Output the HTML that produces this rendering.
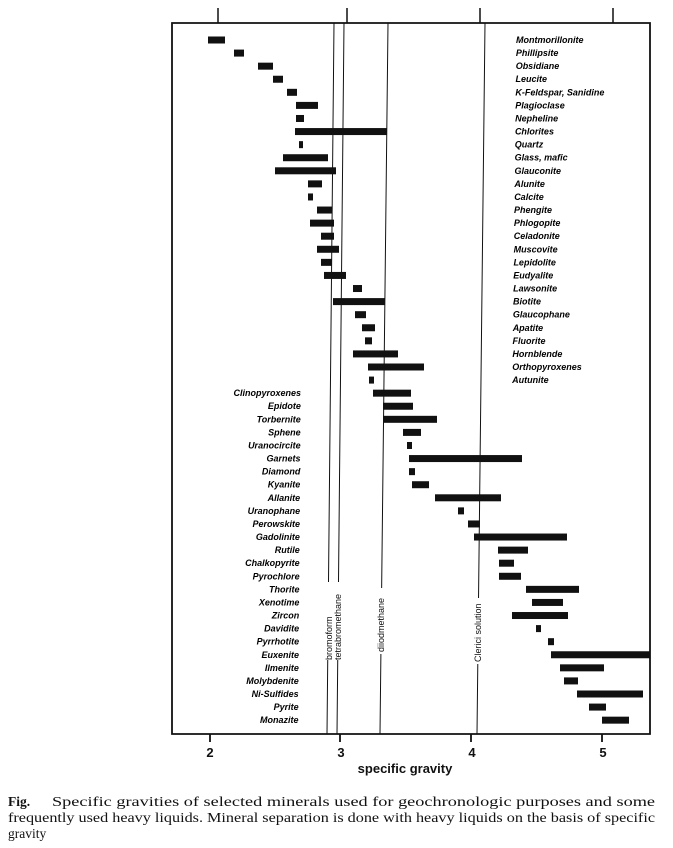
<!DOCTYPE html>
<html><head><style>
body{margin:0;background:#fff;width:673px;height:848px;overflow:hidden}
svg{display:block}
.l{font-family:"Liberation Sans",sans-serif;font-style:italic;font-weight:bold;font-size:9px;fill:#000}
.t{font-family:"Liberation Sans",sans-serif;font-weight:bold;font-size:13px;fill:#111}
.v{font-family:"Liberation Sans",sans-serif;font-size:9px;fill:#111}
.c{font-family:"Liberation Serif",serif;font-size:13.5px;fill:#111}
</style></head><body>
<svg width="673" height="848" viewBox="0 0 673 848">
<g stroke="#111" fill="none">
<path d="M172 23 L650 23 L650 734 L172 734 Z" stroke-width="1.8"/>
<path d="M218 23V8M347 23V8M480 23V8M613 23V8" stroke-width="1.5"/>
<path d="M210 734V742M340 734V742M471 734V742M602 734V742" stroke-width="1.8"/>
<path d="M334 23L327 734M344 23L337 734M388 23L380 734M485 23L477 734" stroke-width="1"/>
</g>
<g fill="#fff"><rect x="322" y="582" width="20" height="78"/><rect x="375" y="588" width="11" height="66"/><rect x="472" y="598" width="11" height="66"/></g>
<text class="v" transform="translate(332,660) rotate(-90)">bromoform</text>
<text class="v" transform="translate(341,660) rotate(-90)">tetrabromethane</text>
<text class="v" transform="translate(384,652) rotate(-90)">diiodmethane</text>
<text class="v" transform="translate(481,662) rotate(-90)">Clerici  solution</text>
<g id="bars" fill="#111"></g>
<g id="labs"></g>
<text class="t" x="210" y="757" text-anchor="middle">2</text>
<text class="t" x="341" y="757" text-anchor="middle">3</text>
<text class="t" x="472" y="757" text-anchor="middle">4</text>
<text class="t" x="603" y="757" text-anchor="middle">5</text>
<text class="t" x="405" y="773" text-anchor="middle">specific  gravity</text>
<text class="c" x="8" y="806" font-weight="bold">Fig.</text>
<text class="c" x="52" y="806" textLength="603" lengthAdjust="spacingAndGlyphs">Specific gravities of selected minerals used for geochronologic purposes and some</text>
<text class="c" x="8" y="822" textLength="647" lengthAdjust="spacingAndGlyphs">frequently used heavy liquids. Mineral separation is done with heavy liquids on the basis of specific</text>
<text class="c" x="8" y="838">gravity</text>
</svg>
<script>
var d=[["Montmorillonite",208,225],["Phillipsite",234,244],["Obsidiane",258,273],["Leucite",273,283],["K-Feldspar, Sanidine",287,297],["Plagioclase",296,318],["Nepheline",296,304],["Chlorites",295,387],["Quartz",299,303],["Glass, mafic",283,328],["Glauconite",275,336],["Alunite",308,322],["Calcite",308,313],["Phengite",317,332],["Phlogopite",310,334],["Celadonite",321,334],["Muscovite",317,339],["Lepidolite",321,332],["Eudyalite",324,346],["Lawsonite",353,362],["Biotite",333,385],["Glaucophane",355,366],["Apatite",362,375],["Fluorite",365,372],["Hornblende",353,398],["Orthopyroxenes",368,424],["Autunite",369,374],["Clinopyroxenes",373,411],["Epidote",383,413],["Torbernite",383,437],["Sphene",403,421],["Uranocircite",407,412],["Garnets",409,522],["Diamond",409,415],["Kyanite",412,429],["Allanite",435,501],["Uranophane",458,464],["Perowskite",468,480],["Gadolinite",474,567],["Rutile",498,528],["Chalkopyrite",499,514],["Pyrochlore",499,521],["Thorite",526,579],["Xenotime",532,563],["Zircon",512,568],["Davidite",536,541],["Pyrrhotite",548,554],["Euxenite",551,650],["Ilmenite",560,604],["Molybdenite",564,578],["Ni-Sulfides",577,643],["Pyrite",589,606],["Monazite",602,629]];
var ns="http://www.w3.org/2000/svg",b=document.getElementById("bars"),L=document.getElementById("labs");
d.forEach(function(r,i){var y=40+i*13.08;var e=document.createElementNS(ns,"rect");e.setAttribute("x",r[1]);e.setAttribute("y",y-3.5);e.setAttribute("width",r[2]-r[1]);e.setAttribute("height",7);b.appendChild(e);
var t=document.createElementNS(ns,"text");t.setAttribute("class","l");t.setAttribute("y",y+3);
if(i<27){t.setAttribute("x",516-i*0.15);}else{t.setAttribute("x",301-(i-27)*0.1);t.setAttribute("text-anchor","end");}
t.textContent=r[0];L.appendChild(t);});
</script>
</body></html>
